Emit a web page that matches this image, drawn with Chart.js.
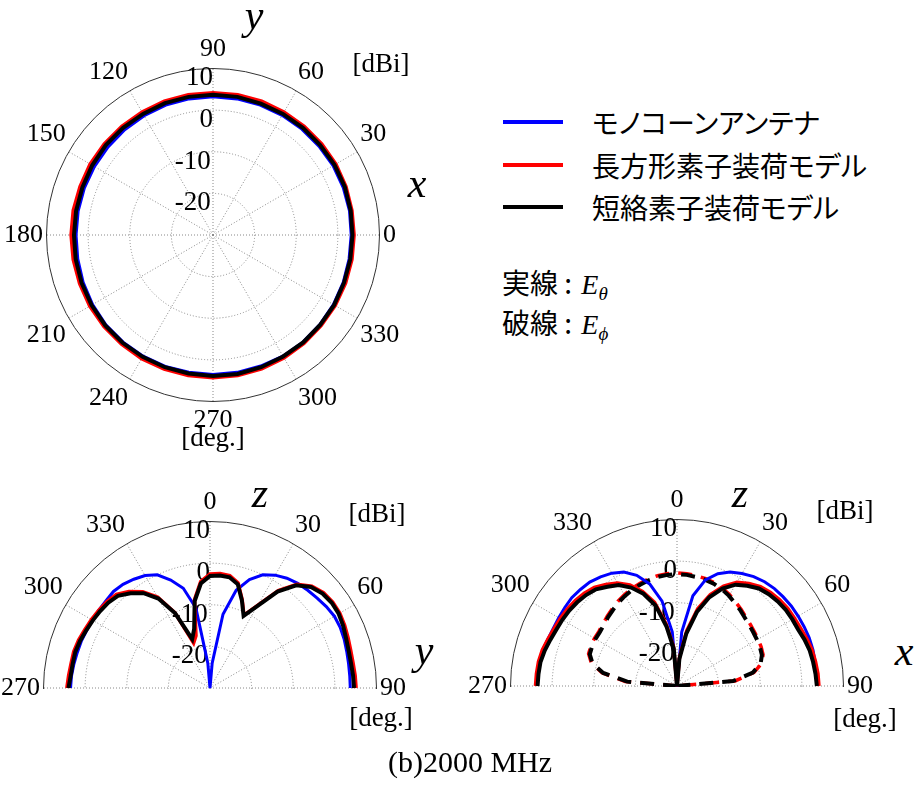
<!DOCTYPE html>
<html lang="ja">
<head>
<meta charset="utf-8">
<title>放射パターン (b)2000 MHz</title>
<script src="https://cdn.jsdelivr.net/npm/chart.js"></script>
<style>
  body { margin: 0; background: #fff; }
  #page { position: relative; width: 917px; height: 786px; overflow: hidden;
          font-family: "Liberation Serif", "Times New Roman", serif; color: #000; }
  .abs { position: absolute; }
  .c { transform: translate(-50%, -50%); }
  .lbl { font-size: 27px; line-height: 1; white-space: nowrap; }
  .axis { font-style: italic; font-size: 42px; line-height: 1; }
  .jp { font-family: "Noto Sans CJK JP", sans-serif; font-size: 28px; line-height: 1;
        font-feature-settings: "palt"; white-space: nowrap; }
  .note i { font-family: "Liberation Serif", serif; font-size: 28px; margin-left: 3px; }
  .note sub { font-family: "Liberation Serif", serif; font-style: italic; font-size: 19px; vertical-align: -6px; }
  .swatch { position: absolute; width: 60px; height: 4px; }
</style>
</head>
<body>
<div id="page">
  <div id="wrapXY" class="abs" style="width:410px;height:410px"><canvas id="xyChart"></canvas></div>
  <div id="wrapYZ" class="abs" style="width:410px;height:410px"><canvas id="yzChart"></canvas></div>
  <div id="wrapXZ" class="abs" style="width:410px;height:410px"><canvas id="xzChart"></canvas></div>

  <!-- 上段: xy面 -->
  <div class="abs c axis" style="left:254px;top:15px">y</div>
  <div class="abs c axis" style="left:417px;top:183px">x</div>
  <div class="abs c lbl" style="left:381px;top:63px">[dBi]</div>
  <div class="abs c lbl" style="left:213px;top:437px">[deg.]</div>

  <!-- 凡例 -->
  <div id="legend"></div>
  <div class="abs jp note" style="left:502px;top:268px">実線 : <i>E</i><sub>θ</sub></div>
  <div class="abs jp note" style="left:502px;top:308px">破線 : <i>E</i><sub>ϕ</sub></div>

  <!-- 下段左: yz面 -->
  <div class="abs c axis" style="left:260px;top:493px">z</div>
  <div class="abs c axis" style="left:424px;top:650px">y</div>
  <div class="abs c lbl" style="left:377px;top:513px">[dBi]</div>
  <div class="abs c lbl" style="left:381px;top:717px">[deg.]</div>

  <!-- 下段右: xz面 -->
  <div class="abs c axis" style="left:740px;top:493px">z</div>
  <div class="abs c axis" style="left:904px;top:651px">x</div>
  <div class="abs c lbl" style="left:845px;top:510px">[dBi]</div>
  <div class="abs c lbl" style="left:865px;top:718px">[deg.]</div>

  <div class="abs c" style="left:470px;top:762px;font-size:30px;line-height:1;white-space:nowrap">(b)2000 MHz</div>
</div>

<script>
// 系列
const seriesNames = ["モノコーンアンテナ", "長方形素子装荷モデル", "短絡素子装荷モデル"];
const seriesColors = ["#0000ff", "#ff0000", "#000000"];

// 利得軸 [dBi]
const gainMin = -30;
const gainMax = 10;
const gainTicks = [-20, -10, 0, 10];

// 角度目盛 [deg.]
const xyTickAngles = [0, 30, 60, 90, 120, 150, 180, 210, 240, 270, 300, 330];
const halfTickAngles = [270, 300, 330, 0, 30, 60, 90];

// xy面 (φ, 0〜350, 10度刻み)
const xyAngles = [0, 10, 20, 30, 40, 50, 60, 70, 80, 90, 100, 110, 120, 130, 140, 150, 160, 170,
                  180, 190, 200, 210, 220, 230, 240, 250, 260, 270, 280, 290, 300, 310, 320, 330, 340, 350];
const monoconeXY = [3.2, 3.3, 3.3, 3.3, 3.2, 3.2, 3.2, 3.2, 3.2, 3.2, 3.2, 3.2, 3.1, 3.0, 2.9, 2.9, 2.9, 2.9,
                    2.9, 3.0, 3.2, 3.4, 3.6, 3.6, 3.6, 3.6, 3.5, 3.5, 3.5, 3.5, 3.6, 3.6, 3.5, 3.4, 3.3, 3.2];
const rectXY = [3.9, 3.9, 4.0, 4.1, 4.1, 4.1, 4.1, 4.2, 4.2, 4.2, 4.2, 4.2, 4.1, 4.1, 4.1, 4.1, 4.0, 4.1,
                4.1, 4.1, 4.1, 4.2, 4.2, 4.2, 4.3, 4.3, 4.3, 4.3, 4.3, 4.2, 4.1, 4.0, 3.9, 3.9, 3.9, 3.9];
const shortXY = [3.5, 3.6, 3.7, 3.7, 3.6, 3.6, 3.6, 3.6, 3.7, 3.7, 3.7, 3.7, 3.6, 3.6, 3.6, 3.5, 3.4, 3.4,
                 3.4, 3.5, 3.6, 3.7, 3.8, 3.8, 3.8, 3.8, 3.8, 3.9, 3.9, 3.8, 3.7, 3.7, 3.6, 3.6, 3.5, 3.5];

// yz面・xz面 (θ, 270〜355, 0〜90, 5度刻み)
const halfAngles = [270, 275, 280, 285, 290, 295, 300, 305, 310, 315, 320, 325, 330, 335, 340, 345, 350, 355,
                    0, 5, 10, 15, 20, 25, 30, 35, 40, 45, 50, 55, 60, 65, 70, 75, 80, 85, 90];

const monoconeYZ = [3.5, 3.4, 3.2, 3.0, 2.9, 2.7, 2.6, 2.6, 2.6, 2.8, 2.5, 1.9, 1.2, 0.0, -2.4, -5.2, -10.5, -24,
                    -30, -24, -12, -5.7, -2.3, 0.0, 1.3, 2.2, 2.8, 3.2, 3.6, 4.1, 4.5, 4.5, 4.3, 4.0, 3.8, 3.7, 3.7];
const rectYZ = [4.4, 4.1, 3.9, 3.9, 3.6, 3.2, 2.9, 2.6, 2.3, 1.8, 0.3, -1.8, -4.8, -10.0, -18.5, -17.0, -8.5, -4.3,
                -2.6, -2.4, -2.6, -3.9, -7.4, -10.7, -7.0, -1.4, 2.5, 4.6, 5.6, 6.0, 6.0, 5.7, 5.3, 5.0, 4.9, 5.0, 5.1];
const shortYZ = [4.0, 3.6, 3.5, 3.5, 3.2, 2.8, 2.5, 2.2, 1.9, 1.3, -0.3, -2.2, -5.2, -10.2, -17.5, -15.3, -8.8, -4.8,
                 -3.1, -2.9, -3.0, -4.2, -7.6, -10.9, -7.3, -1.7, 2.2, 4.3, 5.3, 5.7, 5.7, 5.3, 4.8, 4.5, 4.4, 4.5, 4.6];

const monoconeXZ = [3.7, 3.7, 3.7, 3.4, 3.0, 2.8, 2.8, 2.9, 3.0, 2.8, 2.6, 2.0, 1.3, 0.2, -1.7, -4.6, -9.3, -17,
                    -30, -17, -8.0, -3.6, -1.3, 0.2, 1.2, 2.1, 2.7, 3.1, 3.3, 3.5, 3.6, 3.7, 3.8, 3.8, 3.7, 3.7, 3.7];
const rectXZ = [4.0, 3.9, 3.8, 3.5, 3.0, 2.6, 2.4, 2.2, 1.9, 1.5, 0.9, -0.2, -1.4, -3.2, -5.8, -9.2, -14.8, -20.5,
                -30, -23, -16.5, -10.8, -6.6, -3.5, -1.2, 0.1, 1.2, 1.8, 2.2, 2.5, 2.6, 2.8, 3.2, 3.6, 3.8, 4.0, 4.1];
const shortXZ = [3.5, 3.4, 3.3, 2.9, 2.4, 2.0, 1.8, 1.6, 1.3, 0.9, 0.3, -0.9, -2.0, -3.9, -6.4, -9.9, -15.5, -21,
                 -30, -23.5, -17.3, -11.6, -7.3, -4.2, -1.9, -0.6, 0.6, 1.2, 1.6, 1.9, 2.0, 2.1, 2.6, 3.0, 3.2, 3.4, 3.6];
// Eφ (破線)
const rectXZphi = [-30, -17.5, -11.7, -8.7, -7.4, -7.2, -7.1, -7.1, -6.8, -6.3, -5.8, -5.2, -4.7, -4.2, -3.8, -3.4, -3.1, -2.9,
                   -2.8, -2.9, -3.1, -3.3, -3.6, -4.1, -4.7, -5.4, -6.0, -6.6, -7.0, -7.3, -7.5, -7.7, -8.0, -8.9, -11.2, -16, -30];
const shortXZphi = [-30, -18, -12, -9, -7.7, -7.5, -7.4, -7.4, -7.1, -6.6, -6.1, -5.5, -5.0, -4.5, -4.1, -3.7, -3.4, -3.2,
                    -3.1, -3.2, -3.4, -3.6, -3.9, -4.4, -5.0, -5.7, -6.3, -6.9, -7.3, -7.6, -7.8, -8.0, -8.3, -9.2, -11.5, -16.5, -30];

// レーダーは上から時計回りに並ぶので、その順のラベルを作る
const xyLabels = xyAngles.map((_, i) => (450 - i * 10) % 360);   // 上が90度、右が0度
const halfLabels = Array.from({ length: 72 }, (_, i) => i * 5);   // 上が0度、右が90度

function byAngle(angles, values, labels) {
  return labels.map((a) => {
    const k = angles.indexOf(a);
    return k < 0 ? null : values[k];
  });
}

function line(label, color, data, dashed) {
  return {
    label: label,
    data: data,
    borderColor: color,
    backgroundColor: color,
    borderWidth: color === "#0000ff" ? 3 : color === "#000000" ? 4 : 3.5,
    borderDash: dashed ? [14, 9] : [],
    pointRadius: 0,
    fill: false,
    spanGaps: false,
    tension: 0,
  };
}

// 下半分を描かない (270/90 のラベルだけ残す)
const upperHalfClip = {
  id: "upperHalfClip",
  beforeDraw(chart) {
    const s = chart.scales.r;
    const ctx = chart.ctx;
    ctx.save();
    ctx.beginPath();
    ctx.rect(0, 0, chart.width, s.yCenter + 1);
    ctx.rect(0, s.yCenter, s.xCenter - s.drawingArea - 2, 16);
    ctx.rect(s.xCenter + s.drawingArea + 2, s.yCenter, chart.width, 16);
    ctx.clip();
  },
  afterDraw(chart) {
    chart.ctx.restore();
  },
};

const FIG = "\u2007";

function polarChart(id, labels, tickAngles, datasets, half) {
  const shown = (i) => tickAngles.includes(labels[i]);
  return new Chart(document.getElementById(id), {
    type: "radar",
    data: { labels: labels, datasets: datasets },
    options: {
      responsive: true,
      maintainAspectRatio: false,
      animation: false,
      events: [],
      plugins: { legend: { display: false }, tooltip: { enabled: false } },
      scales: {
        r: {
          min: gainMin,
          max: gainMax,
          startAngle: 0,
          ticks: {
            stepSize: 10,
            showLabelBackdrop: false,
            color: "#000",
            font: { family: '"Liberation Serif", serif', size: 27, lineHeight: 0.36 },
            // 右寄せ・円の内側に置くため空白と空行を足す
            callback: (v) => gainTicks.includes(v) ? ["", String(v) + FIG.repeat(String(v).length)] : "",
          },
          grid: {
            circular: true,
            lineWidth: 1,
            color: (c) => c.tick && c.tick.value === gainMax ? "#333" : "#888",
          },
          border: {
            dash: (c) => c.tick && c.tick.value === gainMax ? [] : [1, 2],
          },
          angleLines: {
            color: "#888",
            lineWidth: (c) => shown(c.index) ? 1 : 0,
            borderDash: [1, 2],
          },
          pointLabels: {
            color: "#000",
            padding: -12,
            font: { family: '"Liberation Serif", serif', size: 26 },
            callback: (v) => tickAngles.includes(v) ? String(v) : [],
          },
        },
      },
    },
    plugins: half ? [upperHalfClip] : [],
  });
}

// 半径と中心を合わせる
function place(chart, wrapId, cx, cy, radius) {
  const wrap = document.getElementById(wrapId);
  for (let k = 0; k < 5; k++) {
    const d = radius - chart.scales.r.drawingArea;
    if (d === 0) break;
    const size = wrap.clientWidth + d * 2;
    wrap.style.width = size + "px";
    wrap.style.height = size + "px";
    chart.resize();
  }
  const s = chart.scales.r;
  wrap.style.left = (cx - s.xCenter) + "px";
  wrap.style.top = (cy - s.yCenter) + "px";
}

const xyChart = polarChart("xyChart", xyLabels, xyTickAngles, [
  line(seriesNames[2], seriesColors[2], byAngle(xyAngles, shortXY, xyLabels)),
  line(seriesNames[1], seriesColors[1], byAngle(xyAngles, rectXY, xyLabels)),
  line(seriesNames[0], seriesColors[0], byAngle(xyAngles, monoconeXY, xyLabels)),
], false);

const yzChart = polarChart("yzChart", halfLabels, halfTickAngles, [
  line(seriesNames[2], seriesColors[2], byAngle(halfAngles, shortYZ, halfLabels)),
  line(seriesNames[1], seriesColors[1], byAngle(halfAngles, rectYZ, halfLabels)),
  line(seriesNames[0], seriesColors[0], byAngle(halfAngles, monoconeYZ, halfLabels)),
], true);

const xzChart = polarChart("xzChart", halfLabels, halfTickAngles, [
  line(seriesNames[2], seriesColors[2], byAngle(halfAngles, shortXZ, halfLabels)),
  line(seriesNames[1], seriesColors[1], byAngle(halfAngles, rectXZ, halfLabels)),
  line(seriesNames[0], seriesColors[0], byAngle(halfAngles, monoconeXZ, halfLabels)),
  line(seriesNames[2] + " Eφ", seriesColors[2], byAngle(halfAngles, shortXZphi, halfLabels), true),
  line(seriesNames[1] + " Eφ", seriesColors[1], byAngle(halfAngles, rectXZphi, halfLabels), true),
], true);

place(xyChart, "wrapXY", 213, 235, 167);
place(yzChart, "wrapYZ", 210, 688, 167);
place(xzChart, "wrapXZ", 677, 686, 167);

// 凡例 (HTML)
const legend = document.getElementById("legend");
seriesNames.forEach((name, i) => {
  const y = 122 + i * 42.5;
  legend.innerHTML +=
    `<div class="swatch" style="left:503px;top:${y - 2}px;background:${seriesColors[i]}"></div>` +
    `<div class="abs jp" style="left:592px;top:${y}px;transform:translateY(-50%)">${name}</div>`;
});
</script>
</body>
</html>
